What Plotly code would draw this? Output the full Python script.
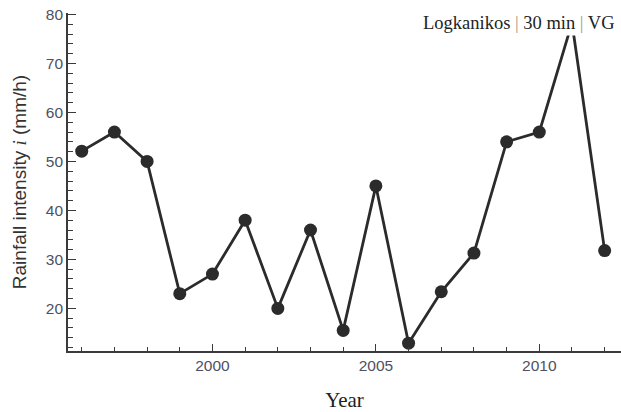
import plotly.graph_objects as go

years = [1996, 1997, 1998, 1999, 2000, 2001, 2002, 2003, 2004, 2005,
         2006, 2007, 2008, 2009, 2010, 2011, 2012]
intensity = [52.1, 56.0, 50.0, 23.0, 27.0, 38.0, 20.0, 36.0, 15.5, 45.0,
             12.9, 23.4, 31.3, 54.0, 56.0, 78.3, 31.8]

x_ticks = [2000, 2005, 2010]
y_ticks = [20, 30, 40, 50, 60, 70, 80]

axis_color = "#3a3a3a"
tick_font = dict(family="Liberation Sans, Arial, sans-serif", size=15.5, color="#4e5062")

fig = go.Figure()
fig.add_trace(go.Scatter(
    x=years, y=intensity, mode="lines+markers",
    line=dict(color="#2b2b2b", width=2.8),
    marker=dict(color="#2b2b2b", size=13),
    showlegend=False,
))

fig.update_layout(
    width=621, height=412,
    margin=dict(l=68, r=0, t=13, b=61, autoexpand=False),
    paper_bgcolor="white", plot_bgcolor="white",
    xaxis=dict(
        range=[1995.58, 2012.5],
        tickvals=x_ticks, ticktext=[str(v) for v in x_ticks],
        ticks="inside", ticklen=7, tickwidth=1.3, tickcolor=axis_color,
        minor=dict(dtick=1, tick0=1996, ticks="inside", ticklen=4, tickwidth=1.2, tickcolor=axis_color),
        showline=True, linecolor=axis_color, linewidth=1.6,
        showgrid=False, zeroline=False,
        tickfont=tick_font,
        title=dict(text="Year", font=dict(family="Liberation Serif, Times New Roman, serif", size=21, color="#222"), standoff=22),
    ),
    yaxis=dict(
        range=[11.3, 80.3],
        tickvals=y_ticks, ticktext=[str(v) for v in y_ticks],
        ticks="inside", ticklen=8, tickwidth=1.3, tickcolor=axis_color,
        minor=dict(dtick=2, tick0=0, ticks="inside", ticklen=5, tickwidth=1.2, tickcolor=axis_color),
        showline=True, linecolor=axis_color, linewidth=1.6,
        showgrid=False, zeroline=False,
        tickfont=tick_font,
        title=dict(
            text='Rainfall intensity <span style="font-family:Liberation Serif;font-style:italic">i</span> (mm/h)',
            font=dict(family="Liberation Sans, Arial, sans-serif", size=19, color="#333"), standoff=14),
    ),
    annotations=[dict(
        x=1 - 3 / (621 - 68), y=1 - (23 - 13) / (412 - 13 - 61),
        xref="paper", yref="paper", yanchor="middle", xanchor="right",
        text='Logkanikos <span style="color:#a89888">|</span> 30 min <span style="color:#a89888">|</span> VG',
        showarrow=False, bgcolor="white", borderpad=2,
        font=dict(family="Liberation Serif, Times New Roman, serif", size=18.5, color="#222"),
    )],
)

fig.write_html("out.html", config={"displayModeBar": False},
               post_script="document.body.style.margin='0';")
